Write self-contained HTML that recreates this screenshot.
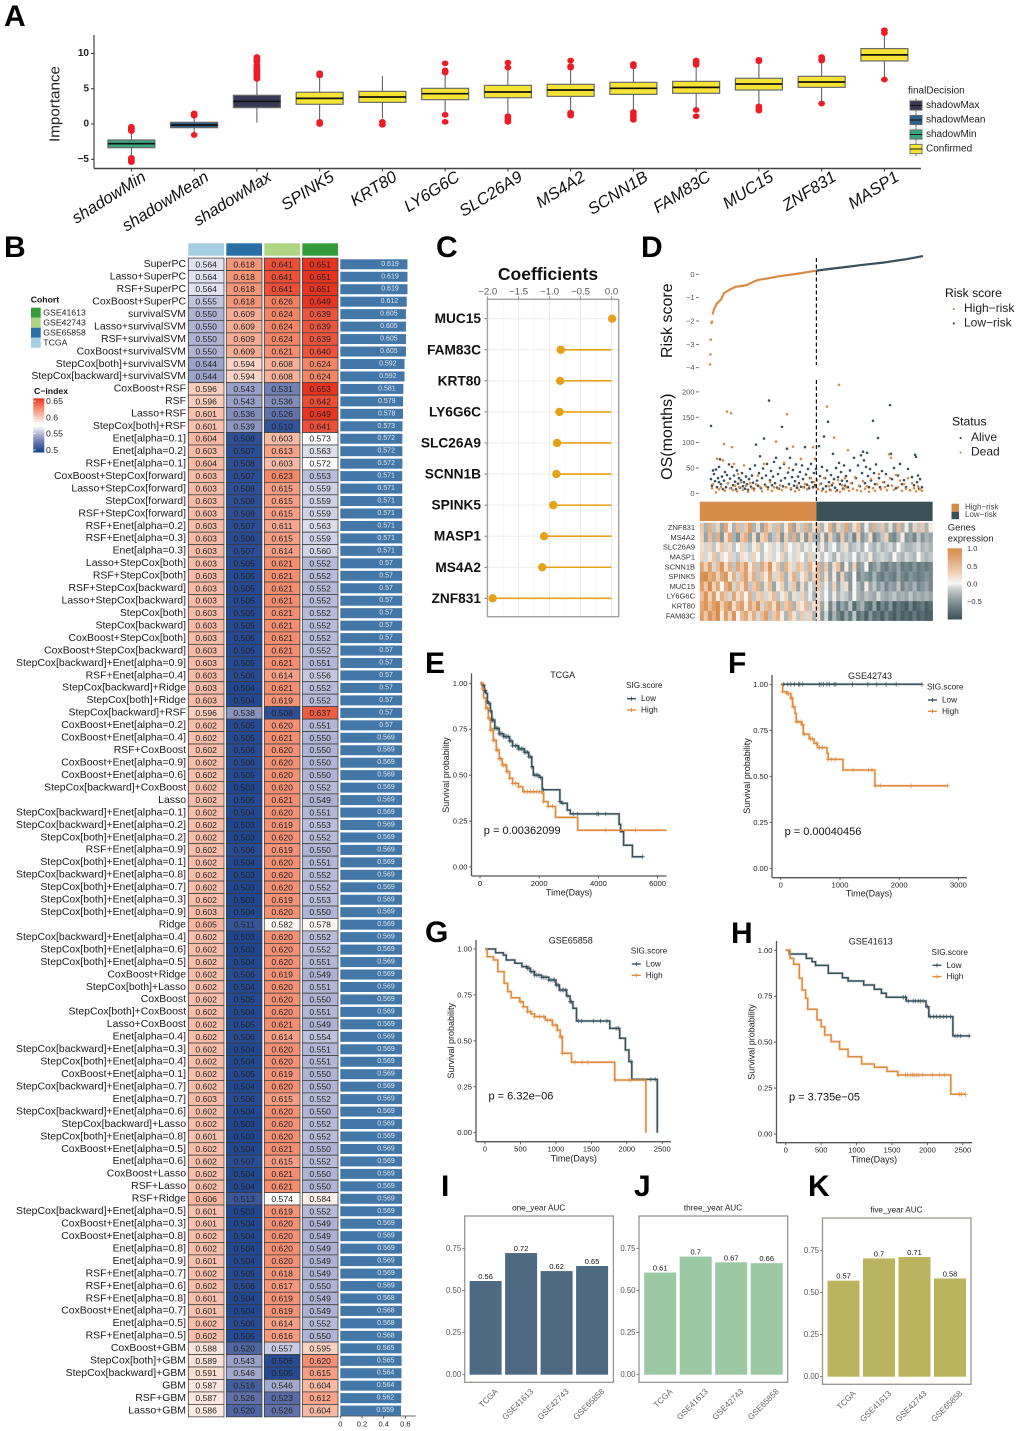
<!DOCTYPE html>
<html lang="en">
<head>
<meta charset="utf-8">
<title>Multi-panel prognostic signature figure</title>
<style>
html,body{margin:0;padding:0;background:#fff;}
svg{display:block;font-family:"Liberation Sans",sans-serif;}
.pl{font-size:30px;font-weight:700;fill:#000;}
</style>
</head>
<body>
<svg id="fig" xmlns="http://www.w3.org/2000/svg" width="1020" height="1431" viewBox="0 0 1020 1431">
<rect x="0" y="0" width="1020" height="1431" fill="#fff"/>
<g id="panelA"></g>
<g id="panelB"></g>
<g id="panelC"></g>
<g id="panelD"></g>
<g id="panelE"></g>
<g id="panelF"></g>
<g id="panelG"></g>
<g id="panelH"></g>
<g id="panelI"></g>
<g id="panelJ"></g>
<g id="panelK"></g>
<text class="pl" x="4" y="26">A</text>
<text class="pl" x="4" y="257">B</text>
<text class="pl" x="436" y="257">C</text>
<text class="pl" x="641" y="257">D</text>
<text class="pl" x="425" y="673">E</text>
<text class="pl" x="728" y="673">F</text>
<text class="pl" x="425" y="942">G</text>
<text class="pl" x="731" y="943">H</text>
<text class="pl" x="441" y="1196">I</text>
<text class="pl" x="634" y="1196">J</text>
<text class="pl" x="808" y="1196">K</text>
</svg>
<script>
/* ---------- Panel A data ---------- */
const boxNames=["shadowMin","shadowMean","shadowMax","SPINK5","KRT80","LY6G6C","SLC26A9","MS4A2","SCNN1B","FAM83C","MUC15","ZNF831","MASP1"];
const boxQ1=[-3.36,-0.52,2.32,2.8,3.07,3.45,3.73,3.92,4.2,4.35,4.82,5.2,8.94];
const boxMedian=[-2.79,-0.14,3.2,3.64,3.83,4.3,4.54,4.82,5.06,5.2,5.67,5.96,9.8];
const boxQ3=[-2.27,0.24,4.07,4.5,4.63,5.06,5.48,5.63,5.91,6.05,6.48,6.76,10.7];
const boxWhiskerLow=[-4.6,-1.3,0.2,0.5,0.8,1.5,1.2,1.7,1.8,2.2,2.7,3,6.5];
const boxWhiskerHigh=[-1.1,1.08,6.2,6.6,6.8,7.2,7.9,7.9,8.1,8.1,8.6,8.8,12.8];
const boxOutliers=[[-5.4,-5.2,-5,-4.8,-1,-0.8,-0.6,-0.4],[1.2,1.4,1.5,-1.55],[6.4,6.6,6.8,7,7.2,7.4,7.6,7.8,8,8.3,8.8,9,9.2,9.5],[6.9,7.2,0,0.3],[-0.1,0.3],[7.3,7.6,8.6,1.3,0.3],[8,8.7,0.3,0.5,0.8,1.1],[8,8.2,9,1.2,1.4,1.6],[8.2,8.5,0.6,1,1.3,1.7],[8.4,8.7,9,2,1.1],[8.9,9.1,2.5,2.2,1.9],[9,9.2,9.5,2.9],[12.9,13.3,6.3]];
const boxTicks=[10,5,0,-5];
const decisionLabels=["shadowMax","shadowMean","shadowMin","Confirmed"];

/* ---------- Panel B data ---------- */
const methodNames=["SuperPC","Lasso+SuperPC","RSF+SuperPC","CoxBoost+SuperPC","survivalSVM","Lasso+survivalSVM","RSF+survivalSVM","CoxBoost+survivalSVM","StepCox[both]+survivalSVM","StepCox[backward]+survivalSVM","CoxBoost+RSF","RSF","Lasso+RSF","StepCox[both]+RSF","Enet[alpha=0.1]","Enet[alpha=0.2]","RSF+Enet[alpha=0.1]","CoxBoost+StepCox[forward]","Lasso+StepCox[forward]","StepCox[forward]","RSF+StepCox[forward]","RSF+Enet[alpha=0.2]","RSF+Enet[alpha=0.3]","Enet[alpha=0.3]","Lasso+StepCox[both]","RSF+StepCox[both]","RSF+StepCox[backward]","Lasso+StepCox[backward]","StepCox[both]","StepCox[backward]","CoxBoost+StepCox[both]","CoxBoost+StepCox[backward]","StepCox[backward]+Enet[alpha=0.9]","RSF+Enet[alpha=0.4]","StepCox[backward]+Ridge","StepCox[both]+Ridge","StepCox[backward]+RSF","CoxBoost+Enet[alpha=0.2]","CoxBoost+Enet[alpha=0.4]","RSF+CoxBoost","CoxBoost+Enet[alpha=0.9]","CoxBoost+Enet[alpha=0.6]","StepCox[backward]+CoxBoost","Lasso","StepCox[backward]+Enet[alpha=0.1]","StepCox[backward]+Enet[alpha=0.2]","StepCox[both]+Enet[alpha=0.2]","RSF+Enet[alpha=0.9]","StepCox[both]+Enet[alpha=0.1]","StepCox[backward]+Enet[alpha=0.8]","StepCox[both]+Enet[alpha=0.7]","StepCox[both]+Enet[alpha=0.3]","StepCox[both]+Enet[alpha=0.9]","Ridge","StepCox[backward]+Enet[alpha=0.4]","StepCox[both]+Enet[alpha=0.6]","StepCox[both]+Enet[alpha=0.5]","CoxBoost+Ridge","StepCox[both]+Lasso","CoxBoost","StepCox[both]+CoxBoost","Lasso+CoxBoost","Enet[alpha=0.4]","StepCox[backward]+Enet[alpha=0.3]","StepCox[both]+Enet[alpha=0.4]","CoxBoost+Enet[alpha=0.1]","StepCox[backward]+Enet[alpha=0.7]","Enet[alpha=0.7]","StepCox[backward]+Enet[alpha=0.6]","StepCox[backward]+Lasso","StepCox[both]+Enet[alpha=0.8]","CoxBoost+Enet[alpha=0.5]","Enet[alpha=0.6]","CoxBoost+Lasso","RSF+Lasso","RSF+Ridge","StepCox[backward]+Enet[alpha=0.5]","CoxBoost+Enet[alpha=0.3]","CoxBoost+Enet[alpha=0.8]","Enet[alpha=0.8]","Enet[alpha=0.9]","RSF+Enet[alpha=0.7]","RSF+Enet[alpha=0.6]","RSF+Enet[alpha=0.8]","CoxBoost+Enet[alpha=0.7]","Enet[alpha=0.5]","RSF+Enet[alpha=0.5]","CoxBoost+GBM","StepCox[both]+GBM","StepCox[backward]+GBM","GBM","RSF+GBM","Lasso+GBM"];
const cindexTCGA=[0.564,0.564,0.564,0.555,0.550,0.550,0.550,0.550,0.544,0.544,0.596,0.596,0.601,0.601,0.604,0.603,0.604,0.603,0.603,0.603,0.603,0.603,0.603,0.603,0.603,0.603,0.603,0.603,0.603,0.603,0.603,0.603,0.603,0.603,0.603,0.603,0.596,0.602,0.602,0.602,0.602,0.602,0.602,0.602,0.602,0.602,0.602,0.602,0.602,0.602,0.602,0.602,0.603,0.605,0.602,0.602,0.602,0.602,0.602,0.602,0.602,0.602,0.602,0.602,0.602,0.602,0.602,0.603,0.602,0.602,0.601,0.602,0.602,0.602,0.602,0.606,0.601,0.601,0.602,0.602,0.601,0.602,0.602,0.601,0.601,0.602,0.602,0.588,0.589,0.591,0.587,0.587,0.586];
const cindexGSE65858=[0.618,0.618,0.618,0.618,0.609,0.609,0.609,0.609,0.594,0.594,0.543,0.543,0.536,0.539,0.508,0.507,0.508,0.507,0.508,0.508,0.508,0.507,0.506,0.507,0.505,0.505,0.505,0.505,0.505,0.505,0.505,0.505,0.505,0.506,0.504,0.504,0.538,0.505,0.505,0.506,0.506,0.505,0.503,0.505,0.504,0.503,0.503,0.506,0.504,0.503,0.503,0.503,0.504,0.511,0.503,0.503,0.504,0.506,0.504,0.505,0.504,0.505,0.506,0.504,0.504,0.505,0.504,0.506,0.504,0.503,0.503,0.504,0.507,0.504,0.504,0.513,0.503,0.504,0.504,0.504,0.504,0.505,0.506,0.504,0.504,0.506,0.505,0.520,0.543,0.546,0.516,0.526,0.520];
const cindexGSE42743=[0.641,0.641,0.641,0.626,0.624,0.624,0.624,0.621,0.608,0.608,0.531,0.536,0.526,0.510,0.603,0.613,0.603,0.623,0.615,0.615,0.615,0.611,0.615,0.614,0.621,0.621,0.621,0.621,0.621,0.621,0.621,0.621,0.621,0.614,0.621,0.619,0.508,0.620,0.621,0.620,0.620,0.620,0.620,0.621,0.620,0.619,0.620,0.619,0.620,0.620,0.620,0.619,0.620,0.582,0.620,0.620,0.620,0.619,0.620,0.620,0.620,0.621,0.614,0.620,0.620,0.619,0.620,0.615,0.620,0.620,0.620,0.621,0.615,0.621,0.621,0.574,0.619,0.620,0.620,0.620,0.620,0.618,0.617,0.619,0.619,0.614,0.616,0.557,0.506,0.505,0.546,0.523,0.526];
const cindexGSE41613=[0.651,0.651,0.651,0.649,0.639,0.639,0.639,0.640,0.624,0.624,0.653,0.642,0.649,0.641,0.573,0.563,0.572,0.553,0.559,0.559,0.559,0.563,0.559,0.560,0.552,0.552,0.552,0.552,0.552,0.552,0.552,0.552,0.551,0.556,0.552,0.552,0.637,0.551,0.550,0.550,0.550,0.550,0.552,0.549,0.551,0.553,0.552,0.550,0.551,0.552,0.552,0.553,0.550,0.578,0.552,0.552,0.551,0.549,0.551,0.550,0.551,0.549,0.554,0.551,0.551,0.550,0.550,0.552,0.550,0.552,0.552,0.550,0.552,0.550,0.550,0.584,0.552,0.549,0.549,0.549,0.549,0.549,0.550,0.549,0.549,0.552,0.550,0.595,0.620,0.615,0.604,0.612,0.604];
const cindexMean=[0.619,0.619,0.619,0.612,0.605,0.605,0.605,0.605,0.592,0.592,0.581,0.579,0.578,0.573,0.572,0.572,0.572,0.571,0.571,0.571,0.571,0.571,0.571,0.571,0.57,0.57,0.57,0.57,0.57,0.57,0.57,0.57,0.57,0.57,0.57,0.57,0.57,0.57,0.569,0.569,0.569,0.569,0.569,0.569,0.569,0.569,0.569,0.569,0.569,0.569,0.569,0.569,0.569,0.569,0.569,0.569,0.569,0.569,0.569,0.569,0.569,0.569,0.569,0.569,0.569,0.569,0.569,0.569,0.569,0.569,0.569,0.569,0.569,0.569,0.569,0.569,0.569,0.569,0.569,0.569,0.569,0.569,0.569,0.568,0.568,0.568,0.568,0.565,0.565,0.564,0.564,0.562,0.559];
const cohortLabels=["GSE41613","GSE42743","GSE65858","TCGA"];
const cindexLegendTicks=[0.65,0.6,0.55,0.5];
const meanAxisTicks=[0,0.2,0.4,0.6];

/* ---------- Panel C data ---------- */
const coefGenes=["MUC15","FAM83C","KRT80","LY6G6C","SLC26A9","SCNN1B","SPINK5","MASP1","MS4A2","ZNF831"];
const coefValues=[0.01,-0.82,-0.83,-0.84,-0.88,-0.89,-0.94,-1.09,-1.12,-1.92];
const coefTicks=[-2,-1.5,-1,-0.5,0];

/* ---------- Panel D data ---------- */
const riskLooseRank=[0,0.4,0.8,1.5,2];
const riskLooseScore=[-3.86,-3.43,-2.8,-2.08,-2.03];
const riskCurveRank=[2.6,4,7,11,14,20,26,32,37,43,48,54,60,68,78,88,97,106.4,120,135,150,173,195,213];
const riskCurveScore=[-1.72,-1.5,-1.24,-1.08,-0.81,-0.65,-0.53,-0.5,-0.46,-0.33,-0.24,-0.2,-0.16,-0.09,-0.03,0.03,0.09,0.16,0.23,0.31,0.39,0.5,0.64,0.78];
const riskSplitRank=106.4;
const riskTicks=[0,-1,-2,-3,-4];
const osTicks=[200,150,100,50,0];
const osAlive=[[1,133],[1,28],[2,15],[3,45],[4,38],[5,24],[6,47],[7,12],[8,30],[9,52],[9,22],[10,67],[11,18],[12,33],[13,8],[14,25],[15,42],[16,12],[17,36],[18,20],[19,57],[20,29],[21,10],[22,52],[23,16],[24,35],[25,23],[26,8],[27,45],[28,19],[29,30],[30,11],[31,26],[32,40],[33,14],[34,22],[35,9],[36,33],[37,18],[38,7],[39,28],[40,48],[41,13],[42,35],[43,21],[44,9],[45,55],[46,96],[47,25],[48,15],[49,40],[50,73],[51,10],[52,30],[53,49],[54,108],[55,17],[56,35],[57,58],[58,12],[59,183],[60,26],[61,44],[62,16],[63,33],[64,62],[65,20],[66,70],[67,11],[68,38],[69,9],[70,50],[71,25],[72,131],[73,14],[74,58],[75,30],[76,12],[77,88],[78,41],[79,18],[80,70],[81,8],[82,32],[83,46],[84,15],[85,24],[86,57],[87,11],[88,33],[89,20],[90,42],[91,13],[92,55],[93,28],[94,12],[95,91],[96,37],[97,17],[98,48],[99,10],[100,30],[101,58],[102,22],[103,12],[104,40],[105,16],[106,48],[107,26],[108,8],[109,93],[110,34],[111,19],[112,52],[113,9],[114,112],[115,30],[116,14],[117,45],[118,141],[119,22],[120,7],[121,36],[122,16],[123,78],[124,28],[125,11],[126,50],[127,6],[128,32],[129,60],[130,18],[131,42],[132,25],[133,9],[134,55],[135,15],[136,34],[137,24],[138,12],[140,45],[142,20],[144,70],[146,30],[148,55],[150,14],[151,75],[152,40],[153,82],[154,65],[155,20],[156,52],[157,80],[158,34],[159,12],[160,48],[161,25],[163,143],[164,40],[165,18],[166,57],[168,109],[169,30],[170,12],[172,44],[174,22],[176,38],[178,15],[180,174],[181,78],[182,28],[184,50],[186,10],[188,35],[190,58],[192,18],[194,26],[196,12],[198,48],[200,6],[202,32],[204,16],[205,76],[206,72],[207,22],[208,35],[209,9],[210,28],[212,12]];
const osDead=[[2,10],[3,18],[6,2],[7,68],[9,8],[11,12],[13,65],[14,97],[15,5],[17,161],[18,20],[20,10],[21,158],[22,91],[23,6],[24,58],[25,15],[27,4],[28,38],[29,12],[31,22],[33,7],[34,55],[36,15],[38,3],[40,20],[42,10],[44,6],[46,18],[48,35],[50,12],[52,4],[54,58],[56,14],[58,8],[60,22],[62,5],[64,12],[66,102],[68,9],[70,16],[72,6],[74,60],[76,12],[77,156],[79,50],[81,10],[83,92],[85,4],[87,15],[89,7],[91,68],[93,12],[95,18],[97,8],[99,14],[101,30],[103,91],[104,22],[105,68],[106,12],[107,26],[108,8],[110,18],[112,5],[114,30],[116,3],[117,171],[119,14],[121,6],[123,20],[124,110],[126,4],[128,26],[129,214],[130,3],[132,16],[134,8],[135,30],[136,12],[138,85],[139,5],[141,20],[143,9],[145,32],[147,6],[149,15],[151,4],[153,24],[155,9],[157,14],[159,3],[161,28],[163,10],[165,5],[167,18],[169,38],[171,8],[173,22],[175,12],[177,6],[179,77],[180,30],[181,70],[182,15],[184,7],[186,36],[188,12],[190,25],[192,5],[194,18],[196,9],[198,30],[200,6],[202,20],[204,10],[206,4],[208,14],[210,8],[212,5]];
const heatGenes=["ZNF831","MS4A2","SLC26A9","MASP1","SCNN1B","SPINK5","MUC15","LY6G6C","KRT80","FAM83C"];
const exprZNF831=[4,-3,6,-2,3,-4,7,1,-3,5,-2,4,8,-3,2,-4,6,3,-2,5,-3,1,7,-4,3,-2,6,-3,2,5,-3,1,6,-4,3,-2,7,-3,2,5,-4,1,-3,6,-2,4,-3,2,-4,5,-3,1,-4,3,-2,4,-3,1];
const exprMS4A2=[3,-4,5,-3,6,-5,2,7,-3,-5,4,6,-4,2,-5,3,5,-4,-2,4,-5,3,-3,6,-4,2,-5,4,-3,-4,2,-5,3,-3,-5,4,-4,-2,-6,3,-5,-3,2,-6,-4,-2,3,-5,-6,-3,1,-5,-4,-6,-2,-5,-3,-4];
const exprSLC26A9=[2,-1,3,-2,1,4,-1,2,-2,0,3,-1,-2,1,3,-2,0,2,-1,1,-2,3,0,-1,2,-2,1,-1,0,-2,1,-3,-1,0,-3,-1,2,-3,-2,-1,-3,0,-2,-3,-1,-3,-2,-1,-3,0,-2,-3,-3,-2,-1,-3,-2,-3];
const exprMASP1=[3,-1,1,4,-2,2,0,3,-1,-2,2,1,-1,3,0,-2,1,2,-1,0,3,-2,1,-1,2,0,-2,3,-1,1,-2,0,-1,-3,1,-2,-1,-2,0,-3,-1,-2,1,-3,-2,-1,-2,-3,0,-2,-3,-1,-2,-3,0,-2,-3,-2];
const exprSCNN1B=[7,3,8,-1,5,9,2,6,-2,7,4,8,1,5,-2,7,3,9,1,4,-3,6,2,-1,5,3,-2,6,1,6,-3,4,-4,2,5,-5,1,-4,3,-5,-4,0,-6,-5,-3,-6,-7,-5,-6,-4,-7,-6,-7,-5,-7,-6,-7,-6];
const exprSPINK5=[9,10,6,8,3,7,9,1,6,-1,5,8,2,6,-2,4,1,7,-1,3,5,-3,2,6,-2,1,4,-3,3,5,-3,2,-4,1,-5,3,-4,-5,0,-6,-4,-5,-6,-3,-6,-7,-5,-6,-7,-4,-6,-7,-5,-6,-7,-6,-5,-6];
const exprMUC15=[8,4,10,3,7,0,6,9,-1,5,2,8,-2,4,6,-3,2,5,-4,1,3,-3,-1,4,-4,2,-3,1,-2,4,-2,1,-3,3,-4,-1,2,-5,0,-3,-5,1,-4,-2,-5,-3,-6,-4,-5,-2,-6,-4,-5,-3,-6,-5,-4,-6];
const exprLY6G6C=[5,9,3,8,1,6,4,-1,7,2,5,0,6,-2,3,4,-1,2,5,-2,1,3,-3,2,-1,3,-2,1,-3,2,-2,0,-3,1,-3,-1,-2,-4,0,-3,-4,-2,-3,-4,-1,-3,-4,-3,-2,-4,-3,-4,-2,-4,-3,-4,-3,-4];
const exprKRT80=[7,9,5,8,10,3,7,9,2,6,8,1,7,4,9,-1,5,6,2,8,-2,4,6,-3,3,1,5,-2,2,3,-4,1,-6,-2,-7,-4,-6,-2,-8,-5,-3,-7,-8,-4,-9,-6,-8,-5,-9,-7,-8,-9,-6,-9,-8,-7,-9,-8];
const exprFAM83C=[8,4,9,6,10,1,8,3,9,0,5,7,2,6,-1,5,8,-2,4,6,1,-3,5,2,-2,4,-1,3,-3,2,-5,-1,-7,-3,-6,-8,-4,-7,-2,-8,-6,-9,-5,-8,-7,-9,-6,-8,-9,-7,-9,-8,-9,-7,-9,-8,-9,-9];
const exprRows=[exprZNF831,exprMS4A2,exprSLC26A9,exprMASP1,exprSCNN1B,exprSPINK5,exprMUC15,exprLY6G6C,exprKRT80,exprFAM83C];
const exprLegendTicks=[1,0.5,0,-0.5];

/* ---------- Panels E-H data ---------- */
const kmETimeLow=[0,80,150,200,250,300,350,400,500,650,800,1000,1100,1300,1500,1650,1750,1800,2000,2100,2700,2750,2950,3050,4700,4750,4850,5150,5500];
const kmESurvLow=[1,0.99,0.96,0.945,0.9,0.89,0.85,0.8,0.755,0.725,0.71,0.686,0.66,0.643,0.625,0.6,0.546,0.5,0.488,0.42,0.356,0.347,0.31,0.289,0.232,0.192,0.118,0.056,0.056];
const kmETimeHigh=[0,80,120,200,280,350,450,550,650,750,900,1000,1100,1300,1450,2100,2150,2300,2550,3300,6300];
const kmESurvHigh=[1,0.97,0.92,0.865,0.81,0.746,0.69,0.637,0.59,0.555,0.52,0.483,0.455,0.437,0.41,0.4,0.356,0.33,0.27,0.2,0.2];
const kmECensorLow=[100,150,180,250,300,350,400,420,450,500,550,600,650,700,750,800,850,900,950,1000,1050,1100,1200,1250,1300,1350,1400,1450,1500,1550,1600,1650,1700,1750,1850,1900,1950,2050,2150,2700,2800,3150,3300,3950,4000,4250,5500];
const kmECensorHigh=[50,100,200,250,300,350,400,450,500,550,600,650,700,750,800,850,900,950,1000,1100,1200,1300,1500,1600,1700,1800,1900,2000,2150,2300,2450,4250,5250];
const kmETicks=[0,2000,4000,6000];

const kmFTimeLow=[0,2385];
const kmFSurvLow=[1,1];
const kmFTimeHigh=[0,30,100,170,200,240,260,350,380,480,560,620,780,800,1050,1590,2820];
const kmFSurvHigh=[1,0.96,0.95,0.924,0.878,0.842,0.797,0.779,0.728,0.703,0.679,0.656,0.625,0.592,0.534,0.449,0.449];
const kmFCensorLow=[50,120,170,230,300,320,370,650,680,720,780,820,900,930,1210,1470,1620,1780,1950,2385];
const kmFCensorHigh=[30,110,130,170,190,210,260,290,340,370,400,500,530,600,650,700,800,860,920,1220,1480,1540,1600,1680,2200,2820];
const kmFTicks=[0,1000,2000,3000];

const kmGTimeLow=[0,130,150,260,300,420,520,600,640,700,800,900,1000,1050,1150,1200,1240,1290,1760,1900,1980,2030,2070,2430];
const kmGSurvLow=[1,1,0.98,0.967,0.94,0.922,0.904,0.895,0.877,0.858,0.846,0.831,0.804,0.777,0.744,0.713,0.677,0.608,0.568,0.514,0.45,0.387,0.29,0];
const kmGTimeHigh=[0,30,120,180,270,320,370,490,540,600,650,700,850,950,1020,1060,1090,1220,1830,2270];
const kmGSurvHigh=[1,0.958,0.94,0.877,0.813,0.768,0.735,0.713,0.686,0.659,0.646,0.632,0.613,0.586,0.559,0.523,0.432,0.383,0.287,0];
const kmGCensorLow=[580,600,620,650,680,700,730,760,800,830,860,900,930,960,980,1010,1030,1060,1090,1110,1140,1170,1200,1220,1320,1360,1530,1630,1720,1850,1880,2060,2340,2400];
const kmGCensorHigh=[500,540,600,640,700,770,830,880,930,960,1000,1020,1060,1080,1090,1270,1370,1450,1840,2030,2060];
const kmGHTicks=[0,500,1000,1500,2000,2500];

const kmHTimeLow=[0,50,290,370,420,600,800,880,1100,1250,1350,1420,1700,1980,2020,2360,2600];
const kmHSurvLow=[1,0.98,0.956,0.938,0.918,0.875,0.851,0.833,0.811,0.788,0.766,0.744,0.724,0.693,0.639,0.534,0.534];
const kmHTimeHigh=[0,60,110,190,230,280,310,440,500,550,640,760,880,1070,1250,1430,1580,2330,2540];
const kmHSurvHigh=[1,0.956,0.924,0.848,0.784,0.739,0.679,0.621,0.584,0.539,0.503,0.461,0.421,0.381,0.363,0.341,0.321,0.216,0.216];
const kmHCensorLow=[1660,1690,1730,1800,1830,1870,1900,1940,2000,2040,2090,2130,2180,2230,2270,2330,2390,2430,2470,2590];
const kmHCensorHigh=[1590,1690,1720,1760,1790,1820,1850,1880,1930,2070,2170,2240,2450,2480,2540];
const kmSurvTicks=[1,0.75,0.5,0.25,0];

/* ---------- Panels I-K data ---------- */
const aucCohorts=["TCGA","GSE41613","GSE42743","GSE65858"];
const aucOneYear=[0.556,0.722,0.615,0.645];
const aucThreeYear=[0.606,0.701,0.667,0.662];
const aucFiveYear=[0.57,0.702,0.71,0.583];
const aucTicks=[0.75,0.5,0.25,0];

/* ---------- helpers ---------- */
const NS='http://www.w3.org/2000/svg';
function mk(tag,parent,attrs,name){
  const el=document.createElementNS(NS,tag);
  for(const k in attrs)el.setAttribute(k,attrs[k]);
  
  
  parent.appendChild(el);
  return el;
}
function txt(parent,x,y,str,size,name,opts){
  const o=opts||{};
  const a={x:x,y:y,'font-size':size,fill:o.fill||'#222','text-anchor':o.anchor||'start','dominant-baseline':'central'};
  if(o.weight)a['font-weight']=o.weight;
  if(o.style)a['font-style']=o.style;
  if(o.rotate!==undefined)a.transform='rotate('+o.rotate+' '+x+' '+y+')';
  const el=mk('text',parent,a,name);
  el.textContent=str;
  return el;
}
function ln(parent,x1,y1,x2,y2,stroke,w,name,dash){
  const a={x1:x1,y1:y1,x2:x2,y2:y2,stroke:stroke,'stroke-width':w};
  if(dash)a['stroke-dasharray']=dash;
  return mk('line',parent,a,name);
}
function box(parent,x,y,w,h,fill,name,stroke,sw){
  const a={x:x,y:y,width:w,height:h,fill:fill};
  if(stroke){a.stroke=stroke;a['stroke-width']=sw||1;}
  return mk('rect',parent,a,name);
}
function hex(c){return [parseInt(c.slice(1,3),16),parseInt(c.slice(3,5),16),parseInt(c.slice(5,7),16)];}
function ramp(stops,v){
  if(v<=stops[0][0])return stops[0][1];
  for(let i=1;i<stops.length;i++){
    if(v<=stops[i][0]){
      const t=(v-stops[i-1][0])/(stops[i][0]-stops[i-1][0]);
      const a=hex(stops[i-1][1]),b=hex(stops[i][1]);
      return 'rgb('+a.map((c,j)=>Math.round(c+(b[j]-c)*t)).join(',')+')';
    }
  }
  return stops[stops.length-1][1];
}
function slug(s){return String(s).toLowerCase().replace(/[^a-z0-9]+/g,'-').replace(/^-|-$/g,'');}

/* ---------- Panel A ---------- */
(function(){
  const p=document.getElementById('panelA');
  const xA=i=>131.4+i*62.75;
  const yA=v=>124-7.05*v;
  const boxW=47;
  const fillFor=i=>i===0?'#3ba57e':i===1?'#2f5f86':i===2?'#3a3a56':'#f6e435';
  txt(p,55,104,'Importance',15.2,'y-axis-title',{anchor:'middle',rotate:-90});
  ln(p,94,35,94,168.5,'#444',1.2,'y-axis-line');
  ln(p,94,168.5,921,168.5,'#444',1.4,'x-axis-line');
  boxTicks.forEach(t=>{
    ln(p,91,yA(t),94,yA(t),'#333',1,'y-tick-'+slug(t));
    txt(p,89,yA(t),t<0?'−'+(-t):String(t),10,'y-tick-label-'+slug(t),{anchor:'end',weight:700,fill:'#222'});
  });
  boxNames.forEach((n,i)=>{
    const cx=xA(i),id=slug(n);
    ln(p,cx,yA(boxWhiskerLow[i]),cx,yA(boxWhiskerHigh[i]),'#555',1,'whisker-'+id);
    box(p,cx-boxW/2,yA(boxQ3[i]),boxW,yA(boxQ1[i])-yA(boxQ3[i]),fillFor(i),'box-'+id,'#6a6a6a',1.2);
    ln(p,cx-boxW/2,yA(boxMedian[i]),cx+boxW/2,yA(boxMedian[i]),'#111',1.7,'median-'+id);
    boxOutliers[i].forEach(v=>{
      mk('ellipse',p,{cx:cx,cy:yA(v),rx:3.4,ry:2.9,fill:'#ee1c25'},'outlier-'+id);
    });
    ln(p,cx,168.5,cx,171.5,'#333',1,'x-tick-'+id);
    txt(p,cx+13,175.5,n,16.5,'x-tick-label-'+id,{anchor:'end',style:'italic',rotate:-32,fill:'#111'});
  });
  txt(p,908,91,'finalDecision',10,'legend-title-final-decision',{fill:'#222'});
  const keyFill=['#3a3a56','#2f5f86','#3ba57e','#f6e435'];
  decisionLabels.forEach((lab,i)=>{
    const y=105.5+i*14.5,id=slug(lab);
    box(p,909,y-7.2,14,14.4,'#efefef','legend-key-bg-'+id);
    ln(p,916,y-7,916,y+7,'#555',0.8,'legend-key-whisker-'+id);
    box(p,910,y-4.6,12,9.2,keyFill[i],'legend-key-'+id,'#666',0.8);
    ln(p,910,y,922,y,'#111',1,'legend-key-median-'+id);
    txt(p,926,y,lab,10,'legend-label-'+id,{fill:'#222'});
  });
})();

/* ---------- Panel B ---------- */
(function(){
  const p=document.getElementById('panelB');
  const rowH=12.46;
  const yB=i=>264.3+i*rowH;
  const colX=[188.3,226.3,264.3,302.3],colW=35.7;
  const colData=[cindexTCGA,cindexGSE65858,cindexGSE42743,cindexGSE41613];
  const colNames=['tcga','gse65858','gse42743','gse41613'];
  const headFill=['#a6cee3','#2a6ea6','#aed484','#339c38'];
  const stops=[[0.5,'#17408d'],[0.525,'#5e6fa8'],[0.55,'#b0b4d4'],[0.573,'#ffffff'],[0.582,'#fdf6f2'],[0.6,'#f9c3b0'],[0.625,'#f48365'],[0.65,'#e8331f']];
  const xBar=v=>340.3+v*108.5;
  colX.forEach((x,c)=>{
    box(p,x,243.3,colW,12.4,headFill[c],'cohort-header-'+colNames[c]);
  });
  methodNames.forEach((m,i)=>{
    const y=yB(i);
    txt(p,186,y+0.3,m,10.45,'method-label-'+slug(m),{anchor:'end',fill:'#1a1a1a'});
    colData.forEach((arr,c)=>{
      const v=arr[i];
      box(p,colX[c],y-rowH/2,colW,rowH,ramp(stops,v),'cindex-cell-'+colNames[c]+'-'+i,'#3a3a3a',0.75);
      txt(p,colX[c]+colW/2,y,v.toFixed(3),8.6,'cindex-value-'+colNames[c]+'-'+i,{anchor:'middle',fill:'#222'});
    });
    const bw=xBar(cindexMean[i])-xBar(0);
    box(p,xBar(0),y-5,bw,10,'#4377a8','mean-bar-'+i);
    txt(p,xBar(0)+bw*0.74,y,String(cindexMean[i]),7,'mean-value-'+i,{anchor:'middle',fill:'#dfe7f0'});
  });
  ln(p,340.3,1416,415.7,1416,'#333',0.8,'mean-axis-line');
  meanAxisTicks.forEach(t=>{
    ln(p,xBar(t),1416,xBar(t),1418.5,'#333',0.8,'mean-axis-tick-'+slug(t));
    txt(p,xBar(t),1424,String(t),7.5,'mean-axis-label-'+slug(t),{anchor:'middle',fill:'#222'});
  });
  txt(p,30.7,299.7,'Cohort',8.7,'cohort-legend-title',{weight:700,fill:'#111'});
  const legFill=['#339c38','#aed484','#2a6ea6','#a6cee3'];
  cohortLabels.forEach((l,i)=>{
    box(p,31,307.7+i*10,9.7,10,legFill[i],'cohort-legend-key-'+slug(l));
    txt(p,43.3,312.7+i*10,l,8.7,'cohort-legend-label-'+slug(l),{fill:'#222'});
  });
  txt(p,34,391,'C−index',8.7,'cindex-legend-title',{weight:700,fill:'#111'});
  const yLeg=v=>450-(v-0.5)*326;
  for(let k=0;k<54;k++){
    const v=0.65-0.15*(k+0.5)/54;
    box(p,33.3,398.3+k,11,1.2,ramp(stops,v),'cindex-colorbar-segment');
  }
  cindexLegendTicks.forEach(t=>{
    ln(p,33.3,yLeg(t),36,yLeg(t),'#fff',0.7,'cindex-colorbar-tick-'+slug(t));
    txt(p,46,yLeg(t),String(t),8.7,'cindex-colorbar-label-'+slug(t),{fill:'#222'});
  });
})();

/* ---------- Panel C ---------- */
(function(){
  const p=document.getElementById('panelC');
  const xC=v=>611.5+61.9*v;
  const yC=i=>318.7+i*31.07;
  txt(p,548,274,'Coefficients',17.5,'coefficients-title',{anchor:'middle',weight:700,fill:'#111'});
  box(p,487.4,299.3,131.3,317.4,'#fff','coefficients-plot-area');
  coefTicks.forEach(t=>{
    ln(p,xC(t),299.3,xC(t),616.7,'#e8e8e8',0.9,'coef-gridline-'+slug(t));
    if(t<0)ln(p,xC(t+0.25),299.3,xC(t+0.25),616.7,'#f2f2f2',0.7,'coef-minor-gridline-'+slug(t));
    ln(p,xC(t),296.5,xC(t),299.3,'#666',0.8,'coef-tick-'+slug(t));
    txt(p,xC(t),292,(t<0?'−':'')+Math.abs(t).toFixed(1),9.6,'coef-tick-label-'+slug(t),{anchor:'middle',fill:'#555'});
  });
  coefGenes.forEach((g,i)=>{
    ln(p,487.4,yC(i),618.7,yC(i),'#eeeeee',1,'coef-row-gridline-'+slug(g));
    ln(p,484.5,yC(i),487.4,yC(i),'#555',0.8,'coef-row-tick-'+slug(g));
    txt(p,481,yC(i),g,13.7,'coef-gene-label-'+slug(g),{anchor:'end',weight:700,fill:'#111'});
    ln(p,xC(0),yC(i),xC(coefValues[i]),yC(i),'#e6a117',1.6,'coef-stem-'+slug(g));
    mk('circle',p,{cx:xC(coefValues[i]),cy:yC(i),r:4.2,fill:'#e6a117'},'coef-dot-'+slug(g));
  });
  box(p,487.4,299.3,131.3,317.4,'none','coefficients-frame','#a3a3a3',1.4);
})();

/* ---------- Panel D ---------- */
(function(){
  const p=document.getElementById('panelD');
  const ORANGE='#d98c47';
  const DK='#37505a';
  const xD=r=>710+r;
  const yRisk=v=>274.3-23.35*v;
  const yOS=v=>493.3-0.507*v;
  const splitX=xD(riskSplitRank);
  /* risk curve */
  txt(p,667.7,320.7,'Risk score',16,'risk-score-axis-title',{anchor:'middle',rotate:-90,fill:'#111'});
  riskTicks.forEach(t=>{
    ln(p,696,yRisk(t),699,yRisk(t),'#555',0.8,'risk-tick-'+slug(t));
    txt(p,694.5,yRisk(t),t<0?'−'+(-t):String(t),7.5,'risk-tick-label-'+slug(t),{anchor:'end',fill:'#555'});
  });
  riskLooseRank.forEach((r,i)=>{
    mk('circle',p,{cx:xD(r),cy:yRisk(riskLooseScore[i]),r:1.3,fill:ORANGE},'risk-point-high');
  });
  const hiPts=[],loPts=[];
  riskCurveRank.forEach((r,i)=>{
    const q=xD(r).toFixed(1)+','+yRisk(riskCurveScore[i]).toFixed(1);
    if(r<=riskSplitRank)hiPts.push(q);
    if(r>=riskSplitRank)loPts.push(q);
  });
  mk('polyline',p,{points:hiPts.join(' '),fill:'none',stroke:ORANGE,'stroke-width':2.2},'risk-curve-high');
  mk('polyline',p,{points:loPts.join(' '),fill:'none',stroke:DK,'stroke-width':2.2},'risk-curve-low');
  /* scatter */
  txt(p,667.7,436.7,'OS(months)',16,'os-axis-title',{anchor:'middle',rotate:-90,fill:'#111'});
  osTicks.forEach(t=>{
    ln(p,696,yOS(t),699,yOS(t),'#555',0.8,'os-tick-'+t);
    txt(p,694.5,yOS(t),String(t),7.5,'os-tick-label-'+t,{anchor:'end',fill:'#555'});
  });
  osAlive.forEach(d=>{
    mk('circle',p,{cx:xD(d[0]),cy:yOS(d[1]),r:1.3,fill:DK},'os-point-alive');
  });
  osDead.forEach(d=>{
    mk('circle',p,{cx:xD(d[0]),cy:yOS(d[1]),r:1.3,fill:ORANGE},'os-point-dead');
  });
  /* annotation + heatmap */
  const hx=699.8,hw=232.8;
  box(p,hx,501.7,splitX-hx,19.3,'#d78c4a','risk-annotation-high');
  box(p,splitX,501.7,hx+hw-splitX,19.3,'#3b5158','risk-annotation-low');
  const exprStops=[[-1,'#3b5158'],[-0.6,'#76878c'],[-0.3,'#aab4b7'],[-0.1,'#d3d8d9'],[0,'#f7f7f7'],[0.3,'#f0d2b8'],[0.6,'#e6b086'],[1,'#d78c4a']];
  const rowHt=9.8;
  exprRows.forEach((row,r)=>{
    const y=522.7+r*rowHt,cw=hw/row.length,g=slug(heatGenes[r]);
    row.forEach((v,c)=>{
      box(p,hx+c*cw,y,cw+0.3,rowHt+0.2,ramp(exprStops,v/10),'expr-cell-'+g+'-'+c);
    });
    txt(p,695,y+rowHt/2,heatGenes[r],7.5,'expr-gene-label-'+g,{anchor:'end',fill:'#333'});
  });
  ln(p,splitX,258,splitX,365,'#111',1.2,'risk-cutoff-line-top','4 2.5');
  ln(p,splitX,380,splitX,502,'#111',1.2,'risk-cutoff-line-middle','4 2.5');
  ln(p,splitX,522,splitX,620.5,'#111',1.2,'risk-cutoff-line-bottom','4 2.5');
  /* legends */
  txt(p,945,293,'Risk score',12.2,'risk-legend-title',{fill:'#111'});
  mk('circle',p,{cx:953.8,cy:309,r:1.1,fill:ORANGE},'risk-legend-key-high');
  txt(p,964,308,'High−risk',12,'risk-legend-label-high',{fill:'#222'});
  mk('circle',p,{cx:953.8,cy:323.5,r:1.1,fill:DK},'risk-legend-key-low');
  txt(p,964,322.7,'Low−risk',12,'risk-legend-label-low',{fill:'#222'});
  txt(p,952,421.7,'Status',12.2,'status-legend-title',{fill:'#111'});
  mk('circle',p,{cx:960.6,cy:438,r:1.1,fill:DK},'status-legend-key-alive');
  txt(p,971,437,'Alive',12,'status-legend-label-alive',{fill:'#222'});
  mk('circle',p,{cx:960.6,cy:452.5,r:1.1,fill:ORANGE},'status-legend-key-dead');
  txt(p,971,451.7,'Dead',12,'status-legend-label-dead',{fill:'#222'});
  box(p,951.5,503.7,7.5,8,'#d78c4a','annotation-legend-key-high');
  box(p,951.5,511.7,7.5,7.5,'#3b5158','annotation-legend-key-low');
  txt(p,965,507,'High−risk',8,'annotation-legend-label-high',{fill:'#444'});
  txt(p,965,514.7,'Low−risk',8,'annotation-legend-label-low',{fill:'#444'});
  txt(p,947.7,528,'Genes',9.5,'genes-legend-title-line-1',{fill:'#222'});
  txt(p,947.7,539,'expression',9.5,'genes-legend-title-line-2',{fill:'#222'});
  for(let k=0;k<71;k++){
    const v=1-2*(k+0.5)/71;
    box(p,947.7,548.3+k,14.3,1.2,ramp(exprStops,v),'expression-colorbar-segment');
  }
  exprLegendTicks.forEach(t=>{
    const y=584-35.3*t;
    txt(p,967,y,(t<0?'−':'')+Math.abs(t).toFixed(1),7.5,'expression-colorbar-label-'+slug(t),{fill:'#333'});
  });
})();

/* ---------- Panels E-H ---------- */
function drawKM(p,o){
  const LOW='#37505a',HIGH='#e08a3c';
  const xK=t=>o.x0+o.kx*t;
  const yK=s=>o.y0-o.ky*s;
  const stepPath=(T,S)=>{
    let d='M'+xK(T[0]).toFixed(1)+' '+yK(S[0]).toFixed(1);
    for(let i=1;i<T.length;i++)d+=' H'+xK(T[i]).toFixed(1)+' V'+yK(S[i]).toFixed(1);
    return d;
  };
  const survAt=(T,S,t)=>{let s=S[0];for(let i=0;i<T.length;i++){if(T[i]<=t)s=S[i];}return s;};
  ln(p,o.left,o.top,o.left,o.bottom,'#555',1.3,'km-y-axis-line');
  ln(p,o.left,o.bottom,o.right,o.bottom,'#555',1.3,'km-x-axis-line');
  txt(p,o.titleX,o.titleY,o.title,9,'km-title',{anchor:'middle',fill:'#222'});
  kmSurvTicks.forEach(s=>{
    ln(p,o.left-2.5,yK(s),o.left,yK(s),'#444',0.8,'km-y-tick-'+slug(s));
    txt(p,o.left-4,yK(s),s.toFixed(2),7.6,'km-y-tick-label-'+slug(s),{anchor:'end',fill:'#222'});
  });
  o.ticks.forEach(t=>{
    ln(p,xK(t),o.bottom,xK(t),o.bottom+2.5,'#444',0.8,'km-x-tick-'+t);
    txt(p,xK(t),o.bottom+7.5,String(t),7.6,'km-x-tick-label-'+t,{anchor:'middle',fill:'#222'});
  });
  txt(p,o.xTitleX,o.xTitleY,'Time(Days)',9,'km-x-axis-title',{anchor:'middle',fill:'#222'});
  txt(p,o.yTitleX,o.yTitleY,'Survival probability',9,'km-y-axis-title',{anchor:'middle',rotate:-90,fill:'#222'});
  mk('path',p,{d:stepPath(o.lowT,o.lowS),fill:'none',stroke:LOW,'stroke-width':3,'stroke-opacity':0.2},'km-curve-halo-low');
  mk('path',p,{d:stepPath(o.highT,o.highS),fill:'none',stroke:HIGH,'stroke-width':3,'stroke-opacity':0.2},'km-curve-halo-high');
  mk('path',p,{d:stepPath(o.lowT,o.lowS),fill:'none',stroke:LOW,'stroke-width':1.5},'km-curve-low');
  mk('path',p,{d:stepPath(o.highT,o.highS),fill:'none',stroke:HIGH,'stroke-width':1.5},'km-curve-high');
  o.lowC.forEach(t=>{
    const x=xK(t),y=yK(survAt(o.lowT,o.lowS,t));
    mk('path',p,{d:'M'+(x-2.2)+' '+y+'H'+(x+2.2)+'M'+x+' '+(y-2.4)+'V'+(y+2.4),stroke:LOW,'stroke-width':0.9,fill:'none','stroke-opacity':0.75},'km-censor-low');
  });
  o.highC.forEach(t=>{
    const x=xK(t),y=yK(survAt(o.highT,o.highS,t));
    mk('path',p,{d:'M'+(x-2.2)+' '+y+'H'+(x+2.2)+'M'+x+' '+(y-2.4)+'V'+(y+2.4),stroke:HIGH,'stroke-width':0.9,fill:'none','stroke-opacity':0.75},'km-censor-high');
  });
  txt(p,o.pX,o.pY,o.pText,11,'km-p-value',{fill:'#111'});
  txt(p,o.legX,o.legY,'SIG.score',8.2,'km-legend-title',{fill:'#222'});
  ln(p,o.legX+1,o.legY+13,o.legX+10,o.legY+13,LOW,1.4,'km-legend-key-low');
  ln(p,o.legX+5.5,o.legY+11,o.legX+5.5,o.legY+15,LOW,0.9,'km-legend-key-censor-low');
  txt(p,o.legX+15,o.legY+13,'Low',8.2,'km-legend-label-low',{fill:'#222'});
  ln(p,o.legX+1,o.legY+24.3,o.legX+10,o.legY+24.3,HIGH,1.4,'km-legend-key-high');
  ln(p,o.legX+5.5,o.legY+22.3,o.legX+5.5,o.legY+26.3,HIGH,0.9,'km-legend-key-censor-high');
  txt(p,o.legX+15,o.legY+24.3,'High',8.2,'km-legend-label-high',{fill:'#222'});
}
drawKM(document.getElementById('panelE'),{title:'TCGA',titleX:562.7,titleY:675,x0:480,kx:0.0296,y0:867,ky:183.7,left:471.5,right:666.5,top:673.3,bottom:876,ticks:kmETicks,lowT:kmETimeLow,lowS:kmESurvLow,highT:kmETimeHigh,highS:kmESurvHigh,lowC:kmECensorLow,highC:kmECensorHigh,pText:'p = 0.00362099',pX:483.8,pY:831,legX:626,legY:685.7,xTitleX:569,xTitleY:892.3,yTitleX:445.8,yTitleY:775});
drawKM(document.getElementById('panelF'),{title:'GSE42743',titleX:870,titleY:676,x0:780.8,kx:0.0592,y0:868.3,ky:184,left:772,right:967,top:675,bottom:877.7,ticks:kmFTicks,lowT:kmFTimeLow,lowS:kmFSurvLow,highT:kmFTimeHigh,highS:kmFSurvHigh,lowC:kmFCensorLow,highC:kmFCensorHigh,pText:'p = 0.00040456',pX:784.6,pY:832,legX:927,legY:687,xTitleX:869,xTitleY:893.7,yTitleX:747,yTitleY:776});
drawKM(document.getElementById('panelG'),{title:'GSE65858',titleX:570.8,titleY:940.7,x0:485,kx:0.0709,y0:1132.7,ky:183.7,left:476,right:671,top:940,bottom:1141.7,ticks:kmGHTicks,lowT:kmGTimeLow,lowS:kmGSurvLow,highT:kmGTimeHigh,highS:kmGSurvHigh,lowC:kmGCensorLow,highC:kmGCensorHigh,pText:'p = 6.32e−06',pX:488.5,pY:1096.7,legX:630.8,legY:951,xTitleX:573.8,xTitleY:1158.3,yTitleX:450.8,yTitleY:1040.7});
drawKM(document.getElementById('panelH'),{title:'GSE41613',titleX:870.8,titleY:941.7,x0:785.8,kx:0.0708,y0:1134,ky:183.7,left:776.5,right:972,top:941,bottom:1142.7,ticks:kmGHTicks,lowT:kmHTimeLow,lowS:kmHSurvLow,highT:kmHTimeHigh,highS:kmHSurvHigh,lowC:kmHCensorLow,highC:kmHCensorHigh,pText:'p = 3.735e−05',pX:789,pY:1097.7,legX:931.5,legY:952.3,xTitleX:874,xTitleY:1159.5,yTitleX:751.5,yTitleY:1042});

/* ---------- Panels I-K ---------- */
function drawAuc(p,o){
  const yV=v=>o.y0-168.5*v;
  const xC=i=>o.cx0+i*35.5;
  const bw=32;
  txt(p,o.titleX,o.titleY,o.title,8.2,'auc-title',{anchor:'middle',fill:'#222'});
  box(p,o.left,o.top,o.right-o.left,o.bottom-o.top,'#fff','auc-frame','#9a9490',1.3);
  aucTicks.forEach(t=>{
    ln(p,o.left-2.5,yV(t),o.left,yV(t),'#666',0.8,'auc-y-tick-'+slug(t));
    txt(p,o.left-3.5,yV(t),t.toFixed(2),7.8,'auc-y-tick-label-'+slug(t),{anchor:'end',fill:'#555'});
  });
  aucCohorts.forEach((c,i)=>{
    const v=o.values[i],id=slug(c);
    box(p,xC(i)-bw/2,yV(v),bw,yV(0)-yV(v),o.color,'auc-bar-'+id);
    txt(p,xC(i),yV(v)-4.5,String(Math.round(v*100)/100),7.5,'auc-value-'+id,{anchor:'middle',fill:'#111'});
    txt(p,xC(i)+11,o.bottom+8,c,8.2,'auc-x-label-'+id,{anchor:'end',rotate:-45,fill:'#666'});
  });
}
drawAuc(document.getElementById('panelI'),{title:'one_year AUC',titleX:538.7,titleY:1208,left:464.7,right:613.4,top:1216,bottom:1382.3,y0:1374.7,cx0:485.6,values:aucOneYear,color:'#4e6a82'});
drawAuc(document.getElementById('panelJ'),{title:'three_year AUC',titleX:713,titleY:1208,left:639,right:787.7,top:1216,bottom:1382.3,y0:1374.7,cx0:660.2,values:aucThreeYear,color:'#9cc8a4'});
drawAuc(document.getElementById('panelK'),{title:'five_year AUC',titleX:896.4,titleY:1210,left:822.5,right:971,top:1218,bottom:1384.3,y0:1376.7,cx0:843.5,values:aucFiveYear,color:'#bbb45f'});
</script>
</body>
</html>
